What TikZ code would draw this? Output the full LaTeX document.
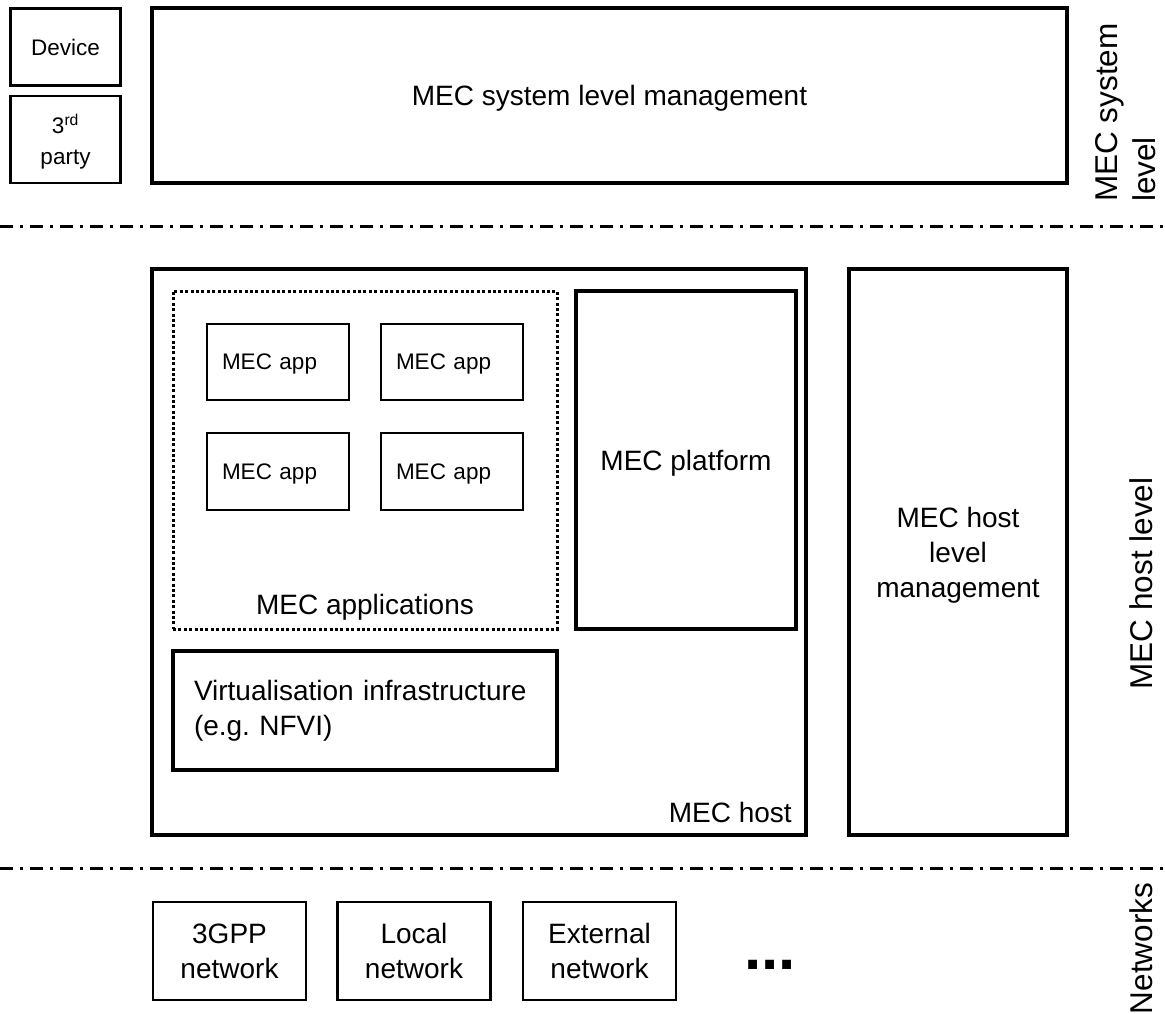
\documentclass[tikz,border=0pt]{standalone}
\usepackage{fontspec}
\setmainfont{Liberation Sans}
\frenchspacing
\newcommand\mainsize{\fontsize{28}{35}\selectfont}
\newcommand\smallsize{\fontsize{22.5}{29}\selectfont}
\newcommand\sidesize{\fontsize{31.5}{38}\selectfont}
\begin{document}
\begin{tikzpicture}[x=1pt,y=-1pt,
  thinbox/.style={draw, line width=2.6pt, inner sep=0pt},
  thickbox/.style={draw, line width=3.4pt, inner sep=0pt},
  dotbox/.style={draw, line width=3pt, dash pattern=on 3pt off 2.4pt, inner sep=0pt},
  appbox/.style={thinbox, minimum width=142pt, minimum height=76pt, text width=112pt, inner xsep=15pt, align=left, text depth=0pt, font=\smallsize},
  netbox/.style={thinbox, minimum width=153pt, minimum height=98pt, align=center, font=\mainsize},
  sidelabel/.style={font=\sidesize, inner sep=0pt},
  plainlabel/.style={font=\mainsize, inner sep=0pt},
  sepline/.style={line width=3pt, dash pattern=on 13pt off 7pt on 3pt off 7pt}]
\useasboundingbox (0,0) rectangle (1165,1014);
\fill[white] (0,0) rectangle (1165,1014);

% system level
\node[thinbox, minimum width=110pt, minimum height=77pt, font=\smallsize] (device) at (65.5,47) {Device};
\node[thinbox, minimum width=110pt, minimum height=87pt, font=\fontsize{22.5}{31}\selectfont, align=center, text depth=0pt] (third) at (65.5,139.5) {3\textsuperscript{rd}\\party};
\node[thickbox, minimum width=915pt, minimum height=175pt, text depth=0pt, font=\mainsize] (sysmgmt) at (609.5,95.5) {MEC system level management};
\node[sidelabel, rotate=90, anchor=west, align=left] (syslevel) at (1125.3,202) {MEC system\\level};

% separator 1
\coordinate (s1l) at (0,226);
\coordinate (s1r) at (1165,226);
\draw[sepline] (s1l) -- (s1r);

% host level
\node[thickbox, minimum width=654pt, minimum height=566pt] (host) at (479,552) {};
\node[plainlabel, anchor=base east] (hostlabel) at (792,822) {MEC host};
\node[dotbox, minimum width=384pt, minimum height=338pt] (apps) at (365,460) {};
\node[plainlabel, anchor=base] (appslabel) at (365,614) {MEC applications};
\node[appbox] (app1) at (278,362) {MEC app};
\node[appbox] (app2) at (452,362) {MEC app};
\node[appbox, minimum height=77pt] (app3) at (278,471.5) {MEC app};
\node[appbox, minimum height=77pt] (app4) at (452,471.5) {MEC app};
\node[thickbox, minimum width=220pt, minimum height=338pt, text depth=0pt, font=\mainsize] (platform) at (686,460) {MEC platform};
\node[thickbox, minimum width=384pt, minimum height=119pt, text width=342pt, inner xsep=21pt, align=left, font=\mainsize] (virt) at (365,710.5) {Virtualisation infrastructure\\(e.g. NFVI)};
\node[thickbox, minimum width=218pt, minimum height=566pt, align=center, text depth=0pt, font=\mainsize] (hostmgmt) at (958,552) {MEC host\\level\\management};
\node[sidelabel, rotate=90, anchor=base] (hostlevel) at (1152,583.5) {MEC host level};

% separator 2
\coordinate (s2l) at (0,868);
\coordinate (s2r) at (1165,868);
\draw[sepline] (s2l) -- (s2r);

% networks
\node[netbox] (net1) at (229.5,951) {3GPP\\network};
\node[netbox] (net2) at (414,951) {Local\\network};
\node[netbox] (net3) at (599.5,951) {External\\network};
\node[font=\fontsize{62}{62}\selectfont\bfseries, anchor=base, inner sep=0pt] (more) at (770,969.5) {...};
\node[sidelabel, rotate=90, anchor=base] (networks) at (1152,948.5) {Networks};
\end{tikzpicture}
\end{document}
